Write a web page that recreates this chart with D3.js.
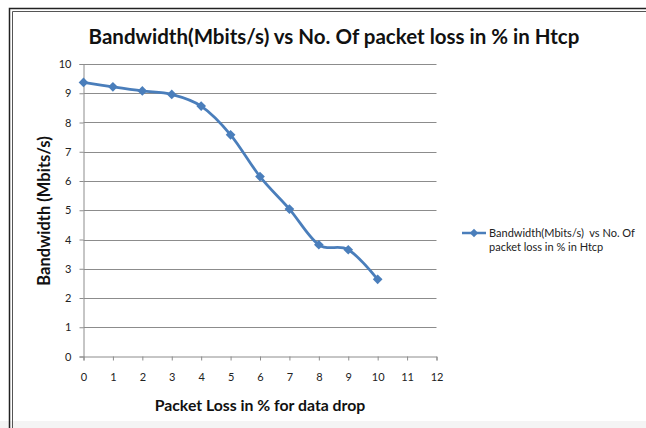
<!DOCTYPE html>
<html><head><meta charset="utf-8">
<script src="https://cdn.jsdelivr.net/npm/d3@7"></script>
<style>body{margin:0;background:#fff}svg{display:block}</style>
</head><body>
<script>
const packetLoss = [0,1,2,3,4,5,6,7,8,9,10];
const bandwidth = [9.37,9.22,9.08,8.96,8.56,7.58,6.15,5.04,3.82,3.65,2.64];
const xTicks = [0,1,2,3,4,5,6,7,8,9,10,11,12];
const yTicks = [0,1,2,3,4,5,6,7,8,9,10];
const seriesName = ["Bandwidth(Mbits/s)  vs No. Of","packet loss in % in Htcp"];
const titleText = "Bandwidth(Mbits/s) vs No. Of packet loss in % in Htcp";

const W=646,H=428;
const svg=d3.select("body").append("svg").attr("width",W).attr("height",H);
svg.append("rect").attr("width",W).attr("height",H).attr("fill","#fff");
// frame
svg.append("rect").attr("x",0).attr("y",421).attr("width",W).attr("height",7).attr("fill","#f4f4f4");
svg.append("path").attr("d","M9.5,428 V8.5 H646").attr("fill","none").attr("stroke","#222").attr("stroke-width",1.5);
svg.append("path").attr("d","M12.5,428 V11.5 H646").attr("fill","none").attr("stroke","#555").attr("stroke-width",1);

const font="Lato, 'Open Sans', sans-serif";
const x=d3.scaleLinear().domain([0,12]).range([83.5,436.5]);
const y=d3.scaleLinear().domain([0,10]).range([356.5,64]);

// gridlines
svg.append("g").selectAll("line").data(yTicks.filter(d=>d>0)).join("line")
 .attr("x1",x(0)).attr("x2",x(12)).attr("y1",d=>Math.round(y(d))+0.5).attr("y2",d=>Math.round(y(d))+0.5)
 .attr("stroke","#8c8c8c").attr("stroke-width",1);

const yAxis=svg.append("g").attr("transform",`translate(${x(0)},0)`)
 .call(d3.axisLeft(y).tickValues(yTicks).tickSize(4).tickPadding(8));
const xAxis=svg.append("g").attr("transform",`translate(0,${y(0)})`)
 .call(d3.axisBottom(x).tickValues(xTicks).tickSize(4).tickPadding(13));
[yAxis,xAxis].forEach(g=>{
 g.select(".domain").attr("stroke","#8c8c8c");
 g.selectAll(".tick line").attr("stroke","#8c8c8c");
 g.selectAll("text").attr("font-family",font).attr("font-size",11).attr("fill","#222");
});

// line
const pts=packetLoss.map((p,i)=>[p,bandwidth[i]]);
svg.append("path").datum(pts)
 .attr("d",d3.line().x(d=>x(d[0])).y(d=>y(d[1])).curve(d3.curveCardinal.tension(0)))
 .attr("fill","none").attr("stroke","#4a7ebb").attr("stroke-width",2.75);
const diamond=d3.symbol().type(d3.symbolDiamond2).size(60);
svg.append("g").selectAll("path").data(pts).join("path")
 .attr("transform",d=>`translate(${x(d[0])},${y(d[1])})`)
 .attr("d",diamond).attr("fill","#4a7ebb");

// title
svg.append("text").attr("x",334).attr("y",44).attr("text-anchor","middle")
 .attr("font-family",font).attr("font-weight","bold").attr("font-size",20.5).attr("fill","#111")
 .text(titleText);
// axis titles
svg.append("text").attr("x",260).attr("y",411).attr("text-anchor","middle")
 .attr("font-family",font).attr("font-weight","bold").attr("font-size",15.8).attr("fill","#111")
 .text("Packet Loss in % for data drop");
svg.append("text").attr("transform","translate(50,211) rotate(-90)").attr("text-anchor","middle")
 .attr("font-family",font).attr("font-weight","bold").attr("font-size",16.5).attr("fill","#111")
 .text("Bandwidth (Mbits/s)");

// legend
const lg=svg.append("g");
lg.append("line").attr("x1",462).attr("x2",486).attr("y1",233).attr("y2",233).attr("stroke","#4a7ebb").attr("stroke-width",2.5);
lg.append("path").attr("transform","translate(474,233)").attr("d",d3.symbol().type(d3.symbolDiamond2).size(45)).attr("fill","#4a7ebb");
lg.selectAll("text").data(seriesName).join("text")
 .attr("x",489).attr("y",(d,i)=>237+i*14).attr("font-family",font).attr("font-size",11).attr("fill","#222")
 .attr("xml:space","preserve").style("white-space","pre").text(d=>d);
</script>
</body></html>
